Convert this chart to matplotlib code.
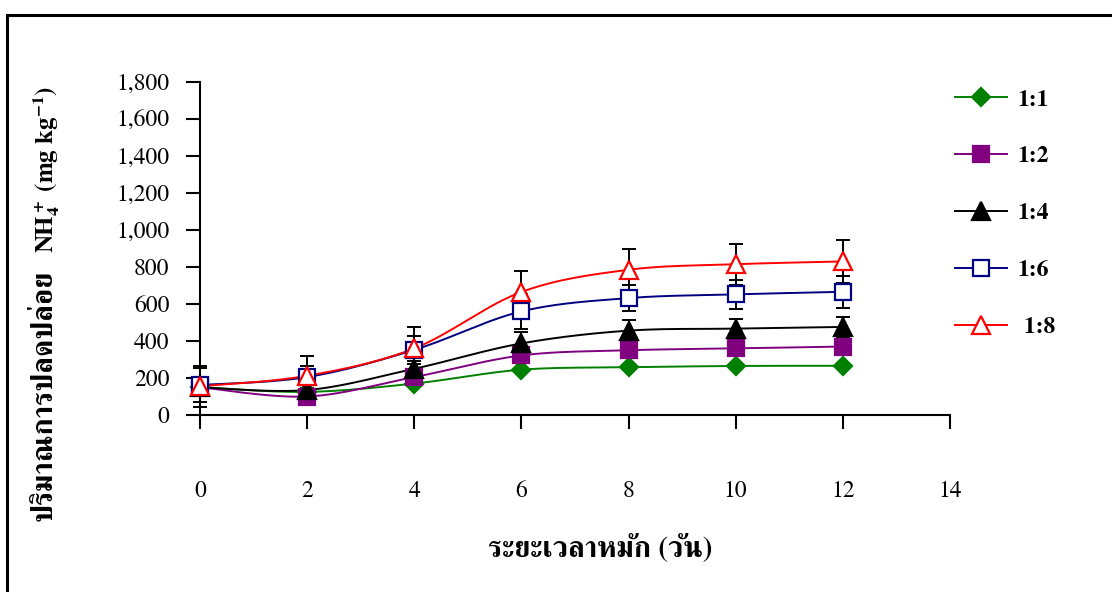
import numpy as np
import matplotlib
matplotlib.use("Agg")
import matplotlib.pyplot as plt
from matplotlib.lines import Line2D
from matplotlib.patches import Rectangle
from matplotlib.ticker import FuncFormatter

# Composting time (days) and NH4+ released (mg/kg) for each mixing ratio
days = [0, 2, 4, 6, 8, 10, 12]
ratio_labels = ["1:1", "1:2", "1:4", "1:6", " 1:8"]
nh4_1_1 = [150, 125, 170, 245, 258, 265, 266]
nh4_1_2 = [150, 100, 205, 322, 350, 360, 370]
nh4_1_4 = [150, 135, 250, 387, 456, 467, 476]
nh4_1_6 = [162, 205, 352, 560, 632, 652, 666]
nh4_1_8 = [155, 212, 360, 665, 785, 815, 830]
# standard deviations (None = no error bar shown)
err_1_4 = [0, 40, 40, 63, 58, 52, 55]
err_1_6 = [92, 60, 75, 95, 72, 80, 88]
err_1_8 = [110, 108, 118, 113, 111, 112, 118]

xticks = [0, 2, 4, 6, 8, 10, 12, 14]
yticks = [0, 200, 400, 600, 800, 1000, 1200, 1400, 1600, 1800]

SERIF = "FreeSerif"
plt.rcParams["font.family"] = [SERIF, "DejaVu Serif"]
plt.rcParams["mathtext.fontset"] = "custom"
plt.rcParams["mathtext.rm"] = "FreeSerif:bold"
plt.rcParams["mathtext.it"] = "FreeSerif:bold"
plt.rcParams["mathtext.bf"] = "FreeSerif:bold"
plt.rcParams["mathtext.default"] = "bf"


def smooth(x, y, n=30):
    """Bezier smoothing through every point (spreadsheet style)."""
    x = np.asarray(x, float)
    y = np.asarray(y, float)
    pts = np.column_stack([x, y])
    out = [pts[0]]
    for i in range(len(pts) - 1):
        p0 = pts[i - 1] if i > 0 else pts[i]
        p1 = pts[i]
        p2 = pts[i + 1]
        p3 = pts[i + 2] if i + 2 < len(pts) else pts[i + 1]
        c1 = p1 + (p2 - p0) / 6.0
        c2 = p2 - (p3 - p1) / 6.0
        t = np.linspace(0, 1, n)[1:, None]
        seg = ((1 - t) ** 3) * p1 + 3 * ((1 - t) ** 2) * t * c1 \
            + 3 * (1 - t) * t ** 2 * c2 + t ** 3 * p2
        out.extend(seg)
    out = np.array(out)
    return out[:, 0], out[:, 1]


fig = plt.figure(figsize=(11.12, 5.92), dpi=100)
ax = fig.add_axes([200 / 1112, 1 - 415 / 592, 750 / 1112, 333 / 592])

series = [
    (nh4_1_1, None, dict(color="#008000", marker="D", mfc="#008000", mec="#008000", ms=9.5)),
    (nh4_1_2, None, dict(color="#800080", marker="s", mfc="#800080", mec="#800080", ms=12)),
    (nh4_1_4, err_1_4, dict(color="black", marker="^", mfc="black", mec="black", ms=13)),
    (nh4_1_6, err_1_6, dict(color="#000080", marker="s", mfc="white", mec="#000080", ms=11.5)),
    (nh4_1_8, err_1_8, dict(color="#FF0000", marker="^", mfc="white", mec="#FF0000", ms=13)),
]

# error bars underneath everything else
for vals, err, st in series:
    if err is not None:
        ax.errorbar(days, vals, yerr=err, fmt="none", ecolor="black",
                    elinewidth=1.4, capsize=5, capthick=1.4, zorder=2, clip_on=False)

handles = []
for k, (vals, err, st) in enumerate(series):
    sx, sy = smooth(days, vals)
    ax.plot(sx, sy, color=st["color"], lw=1.4, zorder=3 + k * 0.1, clip_on=False)
    ax.plot(days, vals, ls="none", marker=st["marker"], ms=st["ms"],
            mfc=st["mfc"], mec=st["mec"], mew=1.6, zorder=5 + k * 0.1, clip_on=False)
    handles.append(Line2D([], [], color=st["color"], lw=1.4, marker=st["marker"],
                          ms=st["ms"], mfc=st["mfc"], mec=st["mec"], mew=1.6))

ax.set_xlim(0, 14)
ax.set_ylim(0, 1800)
ax.set_xticks(xticks)
ax.set_yticks(yticks)
ax.yaxis.set_major_formatter(FuncFormatter(lambda v, p: f"{int(v):,}"))
for s in ["top", "right"]:
    ax.spines[s].set_visible(False)
for s in ["left", "bottom"]:
    ax.spines[s].set_linewidth(1.5)
ax.tick_params(axis="both", direction="out", length=10, width=1.5, labelsize=17)
ax.tick_params(axis="x", pad=37)
ax.tick_params(axis="y", pad=12)
ax.patch.set_alpha(0)

# x-axis title
fig.text(600 / 1112, 1 - 548 / 592, "ระยะเวลาหมัก (วัน)",
         ha="center", va="center", fontsize=21, fontweight="bold")

# y-axis title: Thai words then the unit, stacked bottom to top
ylab_x = 45 / 1112
fig.text(ylab_x, 1 - 521 / 592, "ปริมาณการปลดปล่อย",
         rotation=90, ha="center", va="bottom", fontsize=21, fontweight="bold")
fig.text(ylab_x + 0.002, 1 - 86 / 592, "NH$_4^+$ (mg kg$^{-1}$)",
         rotation=90, ha="center", va="top", fontsize=18, fontweight="bold")

fig.legend(handles, ratio_labels, loc="upper left",
           bbox_to_anchor=(955 / 1112, 1 - 89 / 592), frameon=False,
           prop=dict(family=SERIF, weight="bold", size=17),
           handlelength=2.2, handletextpad=0.45, labelspacing=1.5,
           borderpad=0, borderaxespad=0)

# outer frame
fig.add_artist(Rectangle((7 / 1112, -0.1), 1.2, 1.1 - 15 / 592,
                         transform=fig.transFigure, fill=False, lw=2.2,
                         edgecolor="black"))

fig.savefig("out.png", dpi=100)
